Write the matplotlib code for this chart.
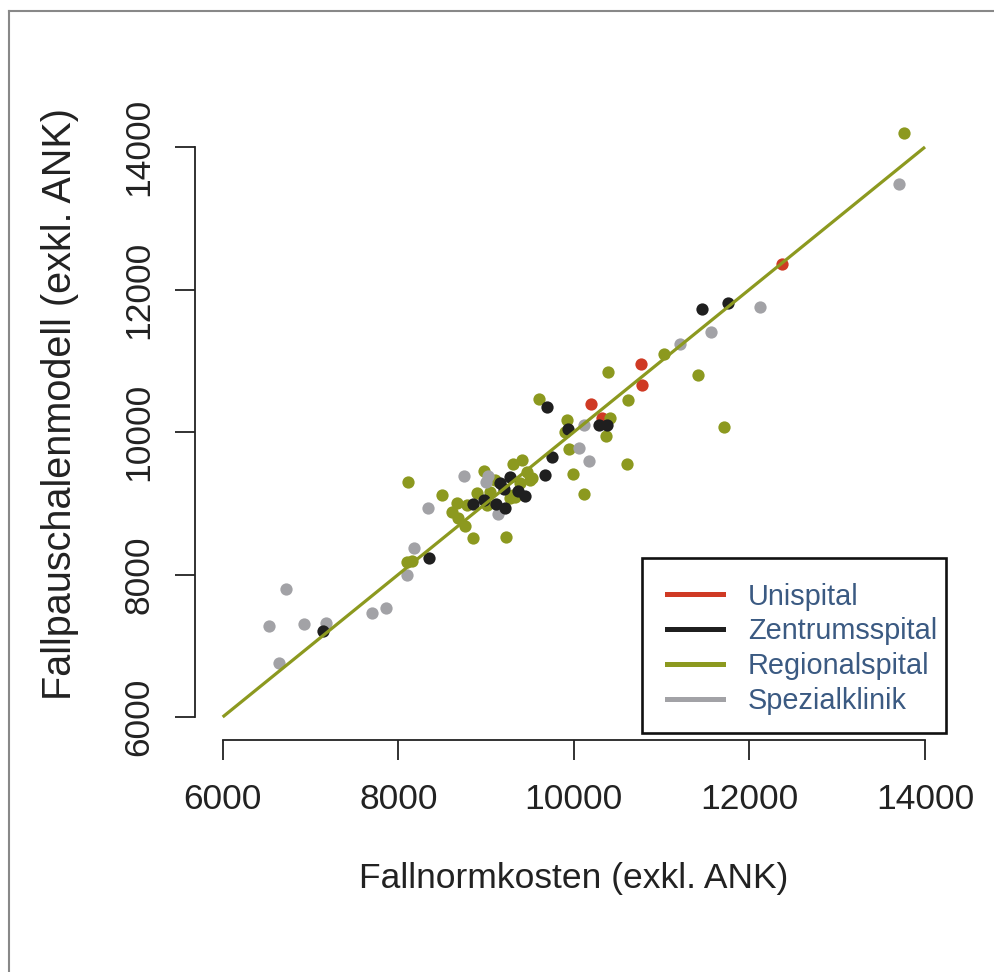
import matplotlib
matplotlib.use("Agg")
import matplotlib.pyplot as plt
from matplotlib.lines import Line2D
from matplotlib.patches import Rectangle

plt.rcParams['font.family'] = ['Liberation Sans', 'DejaVu Sans']

# ---- data ----
uni_x = [12370, 10765, 10775, 10200, 10317]
uni_y = [12360, 10950, 10655, 10390, 10200]

zen_x = [11460, 11752, 9691, 9937, 10290, 10372, 9748, 9677, 8353, 7146,
         8855, 8980, 9113, 9216, 9159, 9273, 9204, 9360, 9444]
zen_y = [11725, 11805, 10349, 10040, 10096, 10092, 9651, 9397, 8238, 7204,
         8983, 9043, 8987, 8935, 9278, 9370, 9193, 9170, 9103]

reg_x = [13764, 11030, 10386, 11418, 10620, 10412, 9922, 9899, 10370, 11710,
         9948, 10611, 9994, 10113, 9600, 8980, 9307, 9406, 8495, 8665,
         8608, 8677, 8760, 8855, 9224, 8107, 8100, 8156, 8893, 9007,
         8779, 9102, 9330, 9463, 9500, 9387, 9045, 9273, 9520, 9310]
reg_y = [14193, 11093, 10845, 10798, 10443, 10199, 10167, 10002, 9946, 10064,
         9759, 9546, 9404, 9127, 10457, 9455, 9556, 9605, 9113, 8997,
         8879, 8786, 8678, 8519, 8528, 9296, 8172, 8186, 9146, 8973,
         8973, 9324, 9089, 9440, 9324, 9282, 9160, 9071, 9348, 9113]

spe_x = [13700, 12124, 11562, 11209, 10116, 10059, 10172, 9022, 8999, 8749,
         8333, 9139, 8183, 8103, 7857, 7704, 7177, 6930, 6718, 6531, 6641]
spe_y = [13481, 11758, 11398, 11234, 10096, 9769, 9591, 9380, 9296, 9380,
         8938, 8847, 8373, 8000, 7531, 7460, 7326, 7302, 7798, 7278, 6758]

line_x = [6000, 14000]
line_y = [6000, 14000]

ticks = [6000, 8000, 10000, 12000, 14000]
y_ticks = [6000, 8000, 10000, 12000, 14000]
labels = ["Unispital", "Zentrumsspital", "Regionalspital", "Spezialklinik"]

c_red = "#cf3a24"
c_black = "#1f1f1f"
c_green = "#8c991f"
c_gray = "#a2a2a6"
txt = "#222222"

W, H = 994, 972
fig = plt.figure(figsize=(W / 100, H / 100), dpi=100)
fig.patch.set_facecolor("white")

ax_l, ax_r, ax_t, ax_b = 194.6, 953.1, 124.2, 739.8
ax = fig.add_axes([ax_l / W, (H - ax_b) / H, (ax_r - ax_l) / W, (ax_b - ax_t) / H])
ax.set_xlim(5680, 14320)
ax.set_ylim(5680, 14320)

s = 78
ax.scatter(uni_x, uni_y, s=s, c=c_red, linewidths=0, zorder=2)
ax.scatter(reg_x, reg_y, s=s, c=c_green, linewidths=0, zorder=2)
ax.scatter(spe_x, spe_y, s=s, c=c_gray, linewidths=0, zorder=2)
ax.scatter(zen_x, zen_y, s=s, c=c_black, linewidths=0, zorder=2)
ax.plot(line_x, line_y, color=c_green, lw=2.3, zorder=3, solid_capstyle='butt')

for sp in ["top", "right"]:
    ax.spines[sp].set_visible(False)
for sp in ["left", "bottom"]:
    ax.spines[sp].set_color(txt)
    ax.spines[sp].set_linewidth(1.3)
ax.spines["bottom"].set_bounds(ticks[0], ticks[-1])
ax.spines["left"].set_bounds(y_ticks[0], y_ticks[-1])

ax.set_xticks(ticks)
ax.set_yticks(y_ticks)
ax.set_xticklabels([str(t) for t in ticks])
ax.set_yticklabels([str(t) for t in y_ticks])
ax.tick_params(axis='both', length=14.4, width=1.3, color=txt, labelcolor=txt, labelsize=25.5)
ax.tick_params(axis='x', pad=17)
ax.tick_params(axis='y', pad=14)
for lab in ax.get_yticklabels():
    lab.set_rotation(90)
    lab.set_va('center')

ax.set_xlabel("Fallnormkosten (exkl. ANK)", fontsize=25.5, color=txt)
ax.set_ylabel("Fallpauschalenmodell (exkl. ANK)", fontsize=28.5, color=txt)
ax.xaxis.set_label_coords(0.5, (ax_b - 878) / (ax_b - ax_t))
ax.xaxis.label.set_va('center')
ax.yaxis.set_label_coords((60 - ax_l) / (ax_r - ax_l), (ax_b - 404) / (ax_b - ax_t))
ax.yaxis.label.set_va('center')
ax.yaxis.label.set_ha('center')

# legend
bx0, by0, bx1, by1 = 641.7, 558.3, 946.0, 733.3
ax.add_patch(Rectangle((bx0 / W, (H - by1) / H), (bx1 - bx0) / W, (by1 - by0) / H,
                       transform=fig.transFigure, clip_on=False, facecolor="white",
                       edgecolor="#111111", lw=1.9, zorder=5))
handles = [Line2D([0], [0], color=c, lw=3.6) for c in [c_red, c_black, c_green, c_gray]]
leg = ax.legend(handles, labels, frameon=False, loc="upper left",
                bbox_to_anchor=(666.7 / W, (H - 582.5) / H), bbox_transform=fig.transFigure,
                borderpad=0, borderaxespad=0, handlelength=1.95, handletextpad=0.86,
                labelspacing=0.24, fontsize=20.8, labelcolor="#3b5a82")
leg.set_zorder(6)

# outer frame (left and top edges)
fig.add_artist(Line2D([8.5 / W, 8.5 / W], [0, (H - 11) / H], color="#888888", lw=1.5,
                      transform=fig.transFigure))
fig.add_artist(Line2D([8.5 / W, 1], [(H - 11) / H, (H - 11) / H], color="#888888", lw=1.5,
                      transform=fig.transFigure))

fig.savefig("out.png", dpi=100)
